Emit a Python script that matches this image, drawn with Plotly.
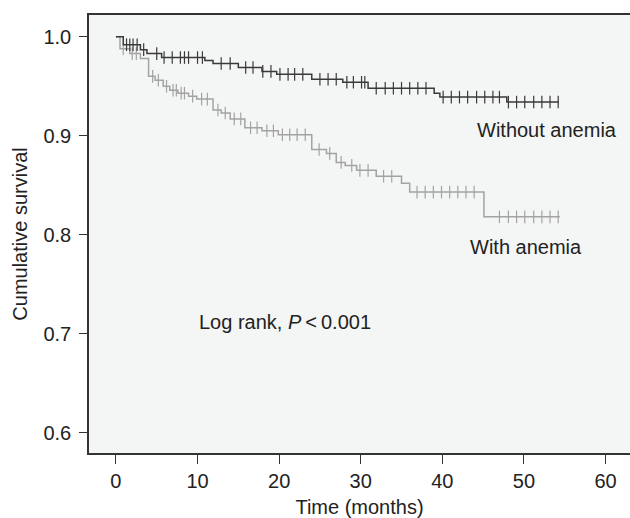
import numpy as np
import plotly.graph_objects as go

# Without anemia: step times and survival after each step
wo_times = [0, 0.9, 3.0, 3.8, 5.6, 10.9, 11.9, 15.0, 17.9, 19.7, 24.0, 27.8, 30.9, 39.0, 39.7, 47.9, 54.3]
wo_surv = [1.0, 0.992, 0.987, 0.983, 0.979, 0.976, 0.973, 0.969, 0.965, 0.962, 0.957, 0.954, 0.948, 0.943, 0.939, 0.934, 0.934]
wo_censor = [1.3, 1.7, 2.1, 2.6, 3.4, 5.0, 5.9, 6.9, 7.9, 8.4, 8.9, 10.0, 10.6, 12.9, 14.0, 15.9, 16.8,
             18.0, 19.0, 20.1, 21.1, 21.9, 22.9, 25.0, 26.0, 27.0, 28.3, 29.1, 30.1, 30.5,
             31.9, 33.0, 34.0, 35.0, 36.0, 37.0, 38.0, 40.1, 41.1, 42.1, 43.1, 44.2, 45.2, 46.2, 47.0,
             48.1, 49.1, 50.1, 51.2, 52.2, 53.2, 54.2]

# With anemia
wa_times = [0, 0.5, 1.7, 3.0, 4.0, 4.8, 5.8, 6.6, 7.6, 8.9, 9.9, 11.9, 12.9, 14.0, 15.8, 17.9, 19.9,
            24.0, 25.8, 27.0, 28.1, 29.5, 31.9, 35.0, 36.0, 45.1, 54.4]
wa_surv = [1.0, 0.988, 0.983, 0.978, 0.960, 0.956, 0.950, 0.946, 0.943, 0.940, 0.937, 0.926, 0.923, 0.917,
           0.908, 0.905, 0.901, 0.886, 0.882, 0.873, 0.870, 0.865, 0.859, 0.852, 0.843, 0.818, 0.818]
wa_censor = [0.9, 2.0, 2.5, 4.5, 5.2, 6.2, 7.0, 7.4, 8.0, 8.4, 9.4, 10.5, 11.2, 12.5, 13.4, 14.5, 15.3,
             16.5, 17.3, 18.5, 19.3, 20.4, 21.3, 22.2, 23.2, 24.9, 26.2, 27.6, 28.9, 29.9, 30.9,
             32.8, 33.8, 36.9, 37.9, 38.9, 39.9, 40.9, 41.9, 42.9, 43.9,
             47.0, 48.1, 49.1, 50.1, 51.2, 52.2, 53.2, 54.2]

x_ticks = [0, 10, 20, 30, 40, 50, 60]
y_ticks = [0.6, 0.7, 0.8, 0.9, 1.0]

DARK = "#3a3a3a"
GRAY = "#a3a3a3"
FONT = "Liberation Sans, Arial, sans-serif"


def at(times, surv, t):
    idx = np.searchsorted(np.array(times), np.array(t), side="right") - 1
    return list(np.array(surv)[idx])


fig = go.Figure()
for times, surv, cens, col in [(wa_times, wa_surv, wa_censor, GRAY), (wo_times, wo_surv, wo_censor, DARK)]:
    fig.add_trace(go.Scatter(x=times, y=surv, mode="lines", line=dict(shape="hv", color=col, width=1.5),
                             showlegend=False, hoverinfo="skip"))
    fig.add_trace(go.Scatter(x=cens, y=at(times, surv, cens), mode="markers",
                             marker=dict(symbol="line-ns", size=9, line=dict(color=col, width=1.2)),
                             showlegend=False))

fig.add_annotation(x=44.0, y=0.9057, text="Without anemia", showarrow=False, xanchor="left",
                   font=dict(size=20, color="#222"))
fig.add_annotation(x=43.2, y=0.788, text="With anemia", showarrow=False, xanchor="left",
                   font=dict(size=20, color="#222"))
fig.add_annotation(x=9.9, y=0.712, text="Log rank, <i>P</i>\u2009&lt;\u20090.001", showarrow=False,
                   xanchor="left", font=dict(size=20, color="#222"))

fig.update_layout(
    width=630, height=518,
    margin=dict(l=89, r=0, t=15, b=65),
    paper_bgcolor="white", plot_bgcolor="#f4f5f5",
    font=dict(family=FONT, size=20, color="#222"),
    xaxis=dict(range=[-3.3, 63.0], tickvals=x_ticks, ticks="outside", ticklen=9, tickwidth=1.2,
               tickcolor="#333", showline=True, linecolor="#333", linewidth=1.5, mirror=True,
               showgrid=False, zeroline=False,
               title=dict(text="Time (months)", standoff=10, font=dict(size=20))),
    yaxis=dict(range=[0.5793, 1.022], tickvals=y_ticks, tickformat=".1f", ticks="outside", ticklen=8,
               tickwidth=1.2, tickcolor="#333", showline=True, linecolor="#333", linewidth=1.5,
               showgrid=False, zeroline=False, ticklabelstandoff=4,
               title=dict(text="Cumulative survival", standoff=10, font=dict(size=20))),
)

# remove the default page margin so the 630x518 figure fills the window exactly
fig.write_html("out.html", config={"displayModeBar": False},
               post_script="document.body.style.margin='0';document.body.style.overflow='hidden';")
